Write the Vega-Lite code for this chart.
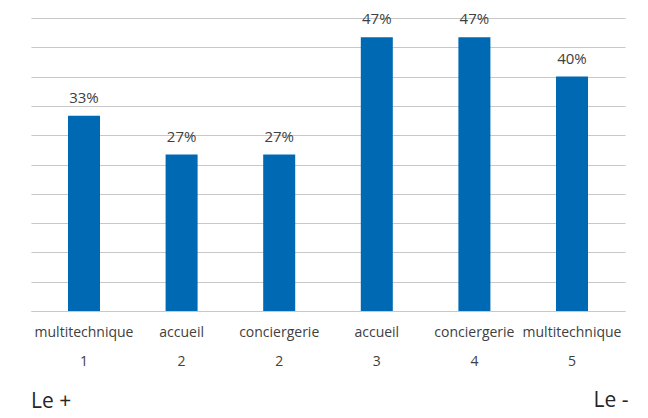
{
  "$schema": "https://vega.github.io/schema/vega-lite/v6.json",
  "width": 594,
  "height": 293,
  "autosize": {"type": "none"},
  "padding": {"left": 31, "top": 18, "right": 23, "bottom": 107},
  "background": "white",
  "config": {
    "view": {"stroke": null},
    "font": "Open Sans"
  },
  "title": {
    "text": "Le +",
    "orient": "bottom",
    "anchor": "start",
    "frame": "group",
    "fontSize": 21,
    "fontWeight": "normal",
    "color": "#262626",
    "offset": -19,
    "dx": 0
  },
  "data": {
    "values": [
      {"cat": "multitechnique|1", "value": 0.333},
      {"cat": "accueil|2", "value": 0.267},
      {"cat": "conciergerie|2", "value": 0.267},
      {"cat": "accueil|3", "value": 0.467},
      {"cat": "conciergerie|4", "value": 0.467},
      {"cat": "multitechnique|5", "value": 0.4}
    ]
  },
  "encoding": {
    "x": {
      "field": "cat",
      "type": "nominal",
      "sort": null,
      "scale": {"paddingInner": 0.672, "paddingOuter": 0.379},
      "axis": {
        "title": "Le -",
        "titleFontSize": 21,
        "titleFontWeight": "normal",
        "titleColor": "#262626",
        "titleAnchor": "end",
        "titleAlign": "right",
        "titleX": 597,
        "titleY": 89,
        "titleBaseline": "middle",
        "labelExpr": "split(datum.label, '|')",
        "labelAngle": 0,
        "labelFontSize": 14,
        "labelColor": "#404040",
        "labelLineHeight": 29,
        "labelPadding": 14,
        "ticks": false,
        "domainColor": "#c8c8c8",
        "domainWidth": 1.2
      }
    },
    "y": {
      "field": "value",
      "type": "quantitative",
      "scale": {"domain": [0, 0.5], "nice": false},
      "axis": {
        "title": null,
        "labels": false,
        "ticks": false,
        "domain": false,
        "values": [0, 0.05, 0.1, 0.15, 0.2, 0.25, 0.3, 0.35, 0.4, 0.45, 0.5],
        "gridColor": "#c8c8c8",
        "gridWidth": 1.2
      }
    }
  },
  "layer": [
    {"mark": {"type": "bar", "color": "#0069b4"}},
    {
      "mark": {"type": "text", "baseline": "alphabetic", "dy": -13, "fontSize": 15, "color": "#404040"},
      "encoding": {"text": {"field": "value", "type": "quantitative", "format": ".0%"}}
    }
  ]
}
